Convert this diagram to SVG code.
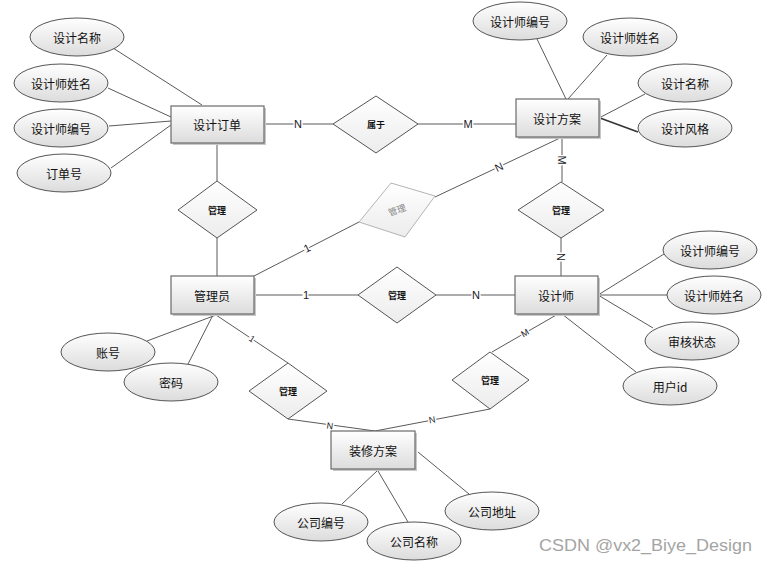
<svg xmlns="http://www.w3.org/2000/svg" width="770" height="565" viewBox="0 0 770 565">
<defs>
<linearGradient id="g" x1="0" y1="0" x2="0" y2="1">
<stop offset="0" stop-color="#ffffff"/>
<stop offset="1" stop-color="#dcdcdc"/>
</linearGradient>
<linearGradient id="gd" x1="0" y1="0" x2="0" y2="1">
<stop offset="0" stop-color="#ffffff"/>
<stop offset="1" stop-color="#ececec"/>
</linearGradient>
<style>
text{font-family:"Noto Sans CJK SC","Liberation Sans",sans-serif;fill:#111;text-anchor:middle;dominant-baseline:central}
.ent rect.b{fill:url(#g);stroke:#6a6a6a;stroke-width:1.2}
.ent rect.s{fill:#c8c8c8}
.ent text{font-size:12px}
.att ellipse{fill:url(#g);stroke:#555;stroke-width:1}
.att text{font-size:12px}
.rel polygon{fill:url(#gd);stroke:#555;stroke-width:1}
.rel text{font-size:9px;font-weight:bold}
.faded polygon{fill:url(#gd);stroke:#b4b4b4;stroke-width:1}
.faded text{font-size:9px;fill:#888}
#connectors line{stroke:#5a5a5a;stroke-width:1}
.lbl{font-family:"Liberation Sans",sans-serif;font-size:11px;fill:#1a1a2a;stroke:#fff;stroke-width:3;paint-order:stroke}
.wm{font-family:"Liberation Sans",sans-serif;font-size:17px;fill:#a4a4a4;text-anchor:start}
</style>
</defs>
<rect width="770" height="565" fill="#fff"/>

<g id="connectors">
<line x1="113" y1="48" x2="202" y2="105"/>
<line x1="108" y1="88" x2="171" y2="117"/>
<line x1="109" y1="126" x2="171" y2="121"/>
<line x1="111" y1="168" x2="171" y2="125"/>
<line x1="264" y1="124" x2="333" y2="124"/>
<line x1="418" y1="124" x2="516" y2="124"/>
<line x1="537" y1="39" x2="566" y2="99"/>
<line x1="607" y1="55" x2="568" y2="99"/>
<line x1="599" y1="118" x2="645" y2="94"/>
<line x1="600" y1="118" x2="638" y2="132" style="stroke-width:1.6;stroke:#333"/>
<line x1="562" y1="138" x2="562" y2="182"/>
<line x1="560" y1="138" x2="435" y2="197"/>
<line x1="359" y1="222" x2="254" y2="276"/>
<line x1="217" y1="143" x2="217" y2="181"/>
<line x1="217" y1="238" x2="217" y2="276"/>
<line x1="254" y1="295" x2="358" y2="295"/>
<line x1="436" y1="295" x2="515" y2="295"/>
<line x1="561" y1="238" x2="561" y2="276"/>
<line x1="598" y1="295" x2="664" y2="254"/>
<line x1="598" y1="295" x2="667" y2="295"/>
<line x1="598" y1="295" x2="653" y2="328"/>
<line x1="562" y1="314" x2="636" y2="372"/>
<line x1="558" y1="314" x2="492" y2="352"/>
<line x1="490" y1="409" x2="375" y2="431"/>
<line x1="216" y1="315" x2="288" y2="363"/>
<line x1="288" y1="419" x2="375" y2="431"/>
<line x1="216" y1="315" x2="147" y2="341"/>
<line x1="213" y1="315" x2="188" y2="364"/>
<line x1="377" y1="471" x2="342" y2="504"/>
<line x1="378" y1="471" x2="408" y2="522"/>
<line x1="418" y1="452" x2="469" y2="494"/>
<text class="lbl" x="298" y="124">N</text>
<text class="lbl" x="468" y="124">M</text>
<text class="lbl" transform="translate(562,160) rotate(90)">M</text>
<text class="lbl" transform="translate(499,167) rotate(-25)">N</text>
<text class="lbl" transform="translate(307,248) rotate(-27)">1</text>
<text class="lbl" x="306" y="295">1</text>
<text class="lbl" x="476" y="295">N</text>
<text class="lbl" transform="translate(561,257) rotate(90)">N</text>
<text class="lbl" transform="translate(525,333) rotate(-30)" style="font-size:9px">M</text>
<text class="lbl" transform="translate(432,420) rotate(-11)" style="font-size:9px">N</text>
<text class="lbl" transform="translate(252,339) rotate(34)" style="font-size:9px">1</text>
<text class="lbl" transform="translate(330,426) rotate(8)" style="font-size:9px">N</text>
</g>

<g id="e-order" class="ent"><rect class="s" x="173" y="108" width="93" height="37"/><rect class="b" x="171" y="106" width="93" height="37"/><text x="217" y="124">设计订单</text></g>
<g id="e-plan" class="ent"><rect class="s" x="518" y="101" width="83" height="38"/><rect class="b" x="516" y="99" width="83" height="38"/><text x="557" y="118">设计方案</text></g>
<g id="e-admin" class="ent"><rect class="s" x="173" y="278" width="83" height="38"/><rect class="b" x="171" y="276" width="83" height="38"/><text x="212" y="295">管理员</text></g>
<g id="e-designer" class="ent"><rect class="s" x="517" y="278" width="83" height="38"/><rect class="b" x="515" y="276" width="83" height="38"/><text x="556" y="295">设计师</text></g>
<g id="e-deco" class="ent"><rect class="s" x="333" y="433" width="84" height="38"/><rect class="b" x="331" y="431" width="84" height="38"/><text x="373" y="450">装修方案</text></g>

<g id="r-belong" class="rel"><polygon points="376,96 418,124 376,153 333,124"/><text x="376" y="124">属于</text></g>
<g id="r-m1" class="rel"><polygon points="217,181 257,210 217,238 178,210"/><text x="217" y="210">管理</text></g>
<g id="r-m2" class="faded"><polygon points="391,183 435,196 405,237 359,222"/><text transform="translate(397,210) rotate(-20)">管理</text></g>
<g id="r-m3" class="rel"><polygon points="397,267 436,295 397,323 358,295"/><text x="397" y="295">管理</text></g>
<g id="r-m4" class="rel"><polygon points="561,182 604,210 561,238 518,210"/><text x="561" y="210">管理</text></g>
<g id="r-m5" class="rel"><polygon points="288,363 327,391 288,419 249,391"/><text x="288" y="391">管理</text></g>
<g id="r-m6" class="rel"><polygon points="490,352 529,380 490,409 452,380"/><text x="490" y="380">管理</text></g>

<g id="a1" class="att"><ellipse cx="77" cy="37" rx="47" ry="19"/><text x="77" y="37">设计名称</text></g>
<g id="a2" class="att"><ellipse cx="61" cy="83" rx="47" ry="19"/><text x="61" y="83">设计师姓名</text></g>
<g id="a3" class="att"><ellipse cx="61" cy="128" rx="47" ry="19"/><text x="61" y="128">设计师编号</text></g>
<g id="a4" class="att"><ellipse cx="64" cy="173" rx="47" ry="19"/><text x="64" y="173">订单号</text></g>
<g id="a5" class="att"><ellipse cx="520" cy="21" rx="47" ry="19"/><text x="520" y="21">设计师编号</text></g>
<g id="a6" class="att"><ellipse cx="630" cy="37" rx="47" ry="19"/><text x="630" y="37">设计师姓名</text></g>
<g id="a7" class="att"><ellipse cx="685" cy="83" rx="47" ry="19"/><text x="685" y="83">设计名称</text></g>
<g id="a8" class="att"><ellipse cx="685" cy="128" rx="47" ry="19"/><text x="685" y="128">设计风格</text></g>
<g id="a9" class="att"><ellipse cx="710" cy="250" rx="47" ry="19"/><text x="710" y="250">设计师编号</text></g>
<g id="a10" class="att"><ellipse cx="714" cy="295" rx="47" ry="19"/><text x="714" y="295">设计师姓名</text></g>
<g id="a11" class="att"><ellipse cx="692" cy="341" rx="47" ry="19"/><text x="692" y="341">审核状态</text></g>
<g id="a12" class="att"><ellipse cx="670" cy="386" rx="47" ry="19"/><text x="670" y="386">用户id</text></g>
<g id="a13" class="att"><ellipse cx="108" cy="352" rx="47" ry="19"/><text x="108" y="352">账号</text></g>
<g id="a14" class="att"><ellipse cx="171" cy="382" rx="47" ry="19"/><text x="171" y="382">密码</text></g>
<g id="a15" class="att"><ellipse cx="321" cy="522" rx="47" ry="19"/><text x="321" y="522">公司编号</text></g>
<g id="a16" class="att"><ellipse cx="414" cy="541" rx="47" ry="19"/><text x="414" y="541">公司名称</text></g>
<g id="a17" class="att"><ellipse cx="492" cy="511" rx="47" ry="19"/><text x="492" y="511">公司地址</text></g>

<text class="wm" x="539" y="551" textLength="213" lengthAdjust="spacingAndGlyphs" style="dominant-baseline:auto">CSDN @vx2_Biye_Design</text>
</svg>
